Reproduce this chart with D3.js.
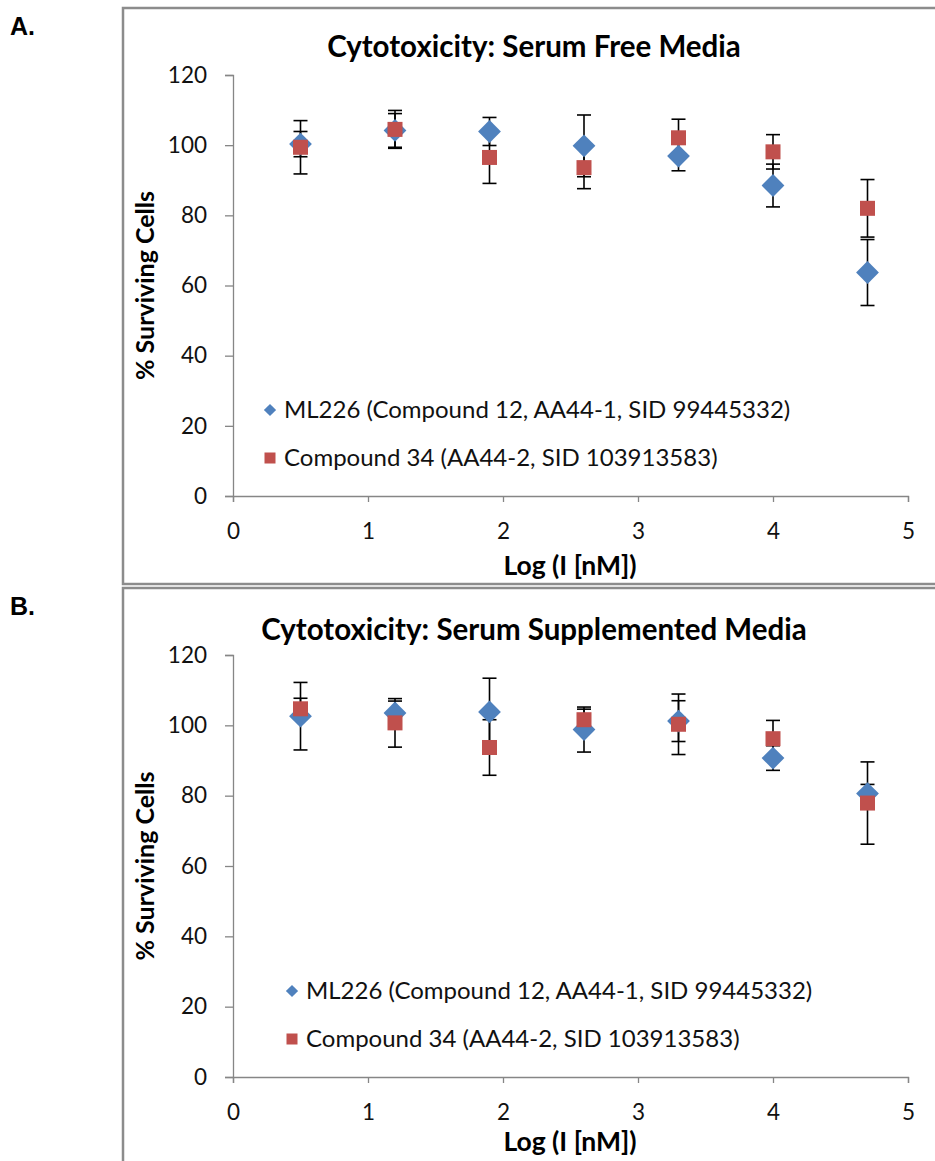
<!DOCTYPE html>
<html><head><meta charset="utf-8">
<script src="https://cdn.jsdelivr.net/npm/d3@7"></script>
<style>body{margin:0;background:#fff}</style></head>
<body>
<svg id="c" width="935" height="1161"></svg>
<script>
// ---- data ----
const xValues = [0.5, 1.2, 1.9, 2.6, 3.3, 4.0, 4.7];
const xTicks = [0, 1, 2, 3, 4, 5];
const yTicks = [0, 20, 40, 60, 80, 100, 120];
const seriesNames = ["ML226 (Compound 12, AA44-1, SID 99445332)", "Compound 34 (AA44-2, SID 103913583)"];
const panelLabels = ["A.", "B."];
const panelTitles = ["Cytotoxicity: Serum Free Media", "Cytotoxicity: Serum Supplemented Media"];
const xTitle = "Log (I [nM])";
const yTitle = "% Surviving Cells";
// Panel A: serum free
const aML226 = [100.3, 104.2, 103.9, 99.8, 96.9, 88.5, 63.7];
const aML226Err = [3.6, 4.8, 4.0, 8.8, 4.2, 6.1, 9.4];
const aCmpd34 = [99.4, 104.5, 96.5, 93.6, 102.1, 98.1, 82.0];
const aCmpd34Err = [7.6, 5.4, 7.4, 6.0, 5.3, 4.9, 8.2];
// Panel B: serum supplemented
const bML226 = [102.6, 103.5, 103.8, 98.8, 101.2, 90.7, 80.6];
const bML226Err = [9.6, 3.4, 9.6, 6.4, 5.8, 3.5, 2.6];
const bCmpd34 = [104.7, 100.7, 93.7, 101.6, 100.3, 96.2, 77.9];
const bCmpd34Err = [3.0, 6.9, 7.9, 3.0, 8.6, 5.2, 11.7];

// ---- layout ----
const svg = d3.select("#c");
const FONT = "Lato, 'Open Sans', sans-serif";
const BLUE = "#4F81BD", RED = "#C0504D", AXIS = "#868686";

const panels = [
  {label: panelLabels[0], title: panelTitles[0], s1: aML226, e1: aML226Err, s2: aCmpd34, e2: aCmpd34Err,
   box: [123, 8, 1000, 576], labelY: 35, titleY: 57, plotTop: 75, plotBottom: 496, xTitleOff: 79,
   legendX: 270, legendY: 410},
  {label: panelLabels[1], title: panelTitles[1], s1: bML226, e1: bML226Err, s2: bCmpd34, e2: bCmpd34Err,
   box: [123, 588, 1000, 700], labelY: 615, titleY: 640, plotTop: 655, plotBottom: 1077, xTitleOff: 74,
   legendX: 292, legendY: 991}
];

panels.forEach(p => {
  // frame
  svg.append("rect").attr("x", p.box[0]).attr("y", p.box[1]).attr("width", p.box[2]).attr("height", p.box[3])
    .attr("fill", "none").attr("stroke", "#8c8c8c").attr("stroke-width", 2.5);
  svg.append("text").attr("x", 10).attr("y", p.labelY).text(p.label)
    .attr("font-family", "'Liberation Sans', Arial, sans-serif").attr("font-weight", "bold").attr("font-size", 25).attr("fill", "#000");

  const x = d3.scaleLinear().domain([0, 5]).range([233, 908]);
  const y = d3.scaleLinear().domain([0, 120]).range([p.plotBottom, p.plotTop]);
  const g = svg.append("g");

  // axes
  const yAx = g.append("g").attr("transform", `translate(${x(0)},0)`)
    .call(d3.axisLeft(y).tickValues(yTicks).tickFormat(d3.format("d")).tickSize(8).tickPadding(18));
  const xAx = g.append("g").attr("transform", `translate(0,${y(0)})`)
    .call(d3.axisBottom(x).tickValues(xTicks).tickFormat(d3.format("d")).tickSize(6).tickPadding(21));
  [yAx, xAx].forEach(a => {
    a.select(".domain").attr("stroke", AXIS).attr("stroke-width", 1.3);
    a.selectAll(".tick line").attr("stroke", AXIS).attr("stroke-width", 1.3);
    a.selectAll(".tick text").attr("font-family", FONT).attr("font-size", 22.5).attr("fill", "#111");
  });

  // title
  g.append("text").attr("x", 534).attr("y", p.titleY).attr("text-anchor", "middle").text(p.title)
    .attr("font-family", FONT).attr("font-weight", "bold").attr("font-size", 29.5).attr("fill", "#000");
  // axis titles
  g.append("text").attr("x", 570).attr("y", y(0) + p.xTitleOff).attr("text-anchor", "middle").text(xTitle)
    .attr("font-family", FONT).attr("font-weight", "bold").attr("font-size", 26.5).attr("fill", "#000");
  g.append("text").attr("transform", `translate(154,${(p.plotTop + p.plotBottom) / 2}) rotate(-90)`)
    .attr("text-anchor", "middle").text(yTitle)
    .attr("font-family", FONT).attr("font-weight", "bold").attr("font-size", 25).attr("fill", "#000");

  // error bars
  const series = [{v: p.s1, e: p.e1}, {v: p.s2, e: p.e2}];
  series.forEach(s => {
    const eg = g.append("g").attr("stroke", "#000").attr("stroke-width", 1.6);
    xValues.forEach((xv, i) => {
      const hi = y(s.v[i] + s.e[i]), lo = y(s.v[i] - s.e[i]), cx = x(xv);
      eg.append("line").attr("x1", cx).attr("x2", cx).attr("y1", hi).attr("y2", lo);
      eg.append("line").attr("x1", cx - 7).attr("x2", cx + 7).attr("y1", hi).attr("y2", hi);
      eg.append("line").attr("x1", cx - 7).attr("x2", cx + 7).attr("y1", lo).attr("y2", lo);
    });
  });

  // markers
  const diamond = d3.symbol().type(d3.symbolSquare).size(260);
  g.append("g").selectAll("path").data(xValues).join("path")
    .attr("d", diamond)
    .attr("transform", (d, i) => `translate(${x(d)},${y(p.s1[i])}) rotate(45)`)
    .attr("fill", BLUE);
  g.append("g").selectAll("rect").data(xValues).join("rect")
    .attr("x", d => x(d) - 7.5).attr("y", (d, i) => y(p.s2[i]) - 7.5)
    .attr("width", 15).attr("height", 15).attr("fill", RED);

  // legend
  const lg = g.append("g");
  lg.append("path").attr("d", d3.symbol().type(d3.symbolSquare).size(75))
    .attr("transform", `translate(${p.legendX},${p.legendY}) rotate(45)`).attr("fill", BLUE);
  lg.append("rect").attr("x", p.legendX - 5.5).attr("y", p.legendY + 48 - 5.5).attr("width", 11).attr("height", 11).attr("fill", RED);
  seriesNames.forEach((n, i) => {
    lg.append("text").attr("x", p.legendX + 14).attr("y", p.legendY + i * 48 + 8).text(n)
      .attr("font-family", FONT).attr("font-size", 24).attr("fill", "#111");
  });
});
</script>
</body></html>
